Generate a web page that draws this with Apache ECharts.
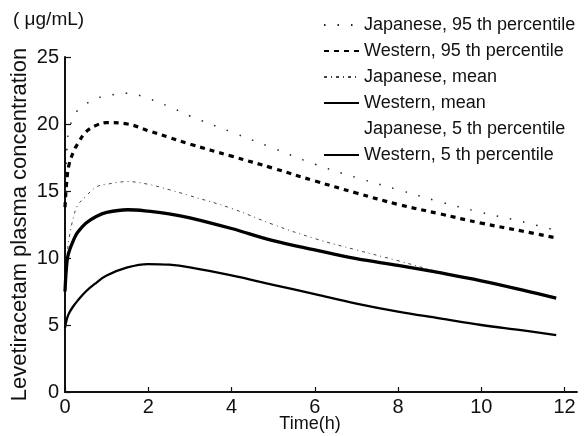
<!DOCTYPE html>
<html><head><meta charset="utf-8">
<script src="https://cdn.jsdelivr.net/npm/echarts@6/dist/echarts.min.js"></script>
<style>html,body{margin:0;padding:0;background:#fff}#c{width:584px;height:436px}</style>
</head><body><div id="c"></div>
<script>
var times = [0, 0.05, 0.1, 0.2, 0.3, 0.5, 0.75, 1, 1.5, 2, 2.5, 3, 4, 5, 6, 7, 8, 9, 10, 11, 11.8];
var jp95 = [14.0, 18.5, 19.6, 20.5, 21.0, 21.5, 21.9, 22.1, 22.3, 21.9, 21.3, 20.6, 19.4, 18.2, 17.0, 16.0, 15.1, 14.2, 13.4, 12.7, 12.05];
var we95 = [13.8, 16.0, 17.0, 17.9, 18.5, 19.4, 19.9, 20.1, 20.0, 19.5, 19.0, 18.5, 17.6, 16.7, 15.75, 14.85, 14.0, 13.3, 12.6, 12.0, 11.5];
var jpMean = [8.0, 10.2, 11.5, 13.0, 13.9, 14.6, 15.3, 15.5, 15.7, 15.5, 15.1, 14.65, 13.7, 12.5, 11.45, 10.6, 9.8, 8.95, 8.3, 7.6, 7.0];
var weMean = [7.5, 9.8, 10.5, 11.3, 11.9, 12.6, 13.1, 13.4, 13.6, 13.5, 13.3, 13.0, 12.2, 11.3, 10.6, 9.95, 9.45, 8.9, 8.3, 7.6, 7.0];
var jp5 = [4.5, 5.3, 5.8, 6.3, 6.7, 7.3, 8.0, 8.5, 9.0, 9.3, 9.35, 9.15, 8.5, 7.8, 7.1, 6.4, 5.8, 5.2, 4.7, 4.3, 4.0];
var we5 = [4.8, 5.5, 5.9, 6.4, 6.8, 7.5, 8.15, 8.7, 9.3, 9.55, 9.5, 9.3, 8.7, 8.0, 7.3, 6.6, 6.0, 5.5, 5.0, 4.6, 4.25];
var xTicks = [0, 2, 4, 6, 8, 10, 12];
var yTicks = [0, 5, 10, 15, 20, 25];
var names = ['Japanese, 95 th percentile', 'Western, 95 th percentile', 'Japanese, mean', 'Western, mean', 'Japanese, 5 th percentile', 'Western, 5 th percentile'];

function pairs(v){ return times.map(function(t,i){ return [t, v[i]]; }); }
var FONT = '"Liberation Sans", Arial, sans-serif';
var chart = echarts.init(document.getElementById('c'), null, {renderer:'canvas'});
function mk(name, data, width, type, color, opacity){
  return {name:name, type:'line', data:pairs(data), showSymbol:false, symbol:'none', smooth:0.4,
    lineStyle:{width:width, type:type, color:color, opacity:opacity}, itemStyle:{color:color, opacity:0}, emphasis:{disabled:true}, z: 3};
}
chart.setOption({
  animation:false,
  grid:{left:65, right:7, top:57, bottom:44, containLabel:false, outerBoundsMode:'none'},
  title:{text:'( μg/mL)', left:8, top:5, textStyle:{fontFamily:FONT, fontSize:19, fontWeight:'normal', color:'#111'}},
  legend:{orient:'vertical', left:318, top:10, itemWidth:35, itemHeight:14, itemGap:6,
    itemStyle:{opacity:0, borderWidth:0},
    textStyle:{fontFamily:FONT, fontSize:18, color:'#111', lineHeight:20}, data:names},
  xAxis:{type:'value', min:0, max:12.3, interval:2,
    name:'Time(h)', nameLocation:'middle', nameGap:23, nameMoveOverlap:false,
    nameTextStyle:{fontFamily:FONT, fontSize:18, color:'#111', padding:[0, 22, 0, 0]},
    axisLine:{lineStyle:{color:'#111', width:1.8}},
    axisTick:{inside:true, length:5, lineStyle:{color:'#111', width:1.2}, customValues:xTicks},
    axisLabel:{fontFamily:FONT, fontSize:20, color:'#111', margin:5, customValues:xTicks},
    splitLine:{show:false}},
  yAxis:{type:'value', min:0, max:25, interval:5,
    name:'Levetiracetam plasma concentration', nameLocation:'middle', nameGap:34, nameRotate:90, nameMoveOverlap:false,
    nameTextStyle:{fontFamily:FONT, fontSize:22, color:'#111'},
    axisLine:{lineStyle:{color:'#111', width:2}},
    axisTick:{inside:true, length:6, lineStyle:{color:'#111', width:1.2}, customValues:yTicks},
    axisLabel:{fontFamily:FONT, fontSize:20, color:'#111', margin:6, customValues:yTicks},
    splitLine:{show:false}},
  series:[
    mk(names[0], jp95, 1.5, [1.5, 12], '#222', 1),
    mk(names[1], we95, 3.2, [5, 5], '#000', 1),
    mk(names[2], jpMean, 1, [3, 4, 1, 4], '#444', 1),
    mk(names[3], weMean, 3.3, 'solid', '#000', 1),
    mk(names[4], jp5, 1, 'solid', '#000', 0),
    mk(names[5], we5, 2.3, 'solid', '#000', 1)
  ]
});
</script></body></html>
